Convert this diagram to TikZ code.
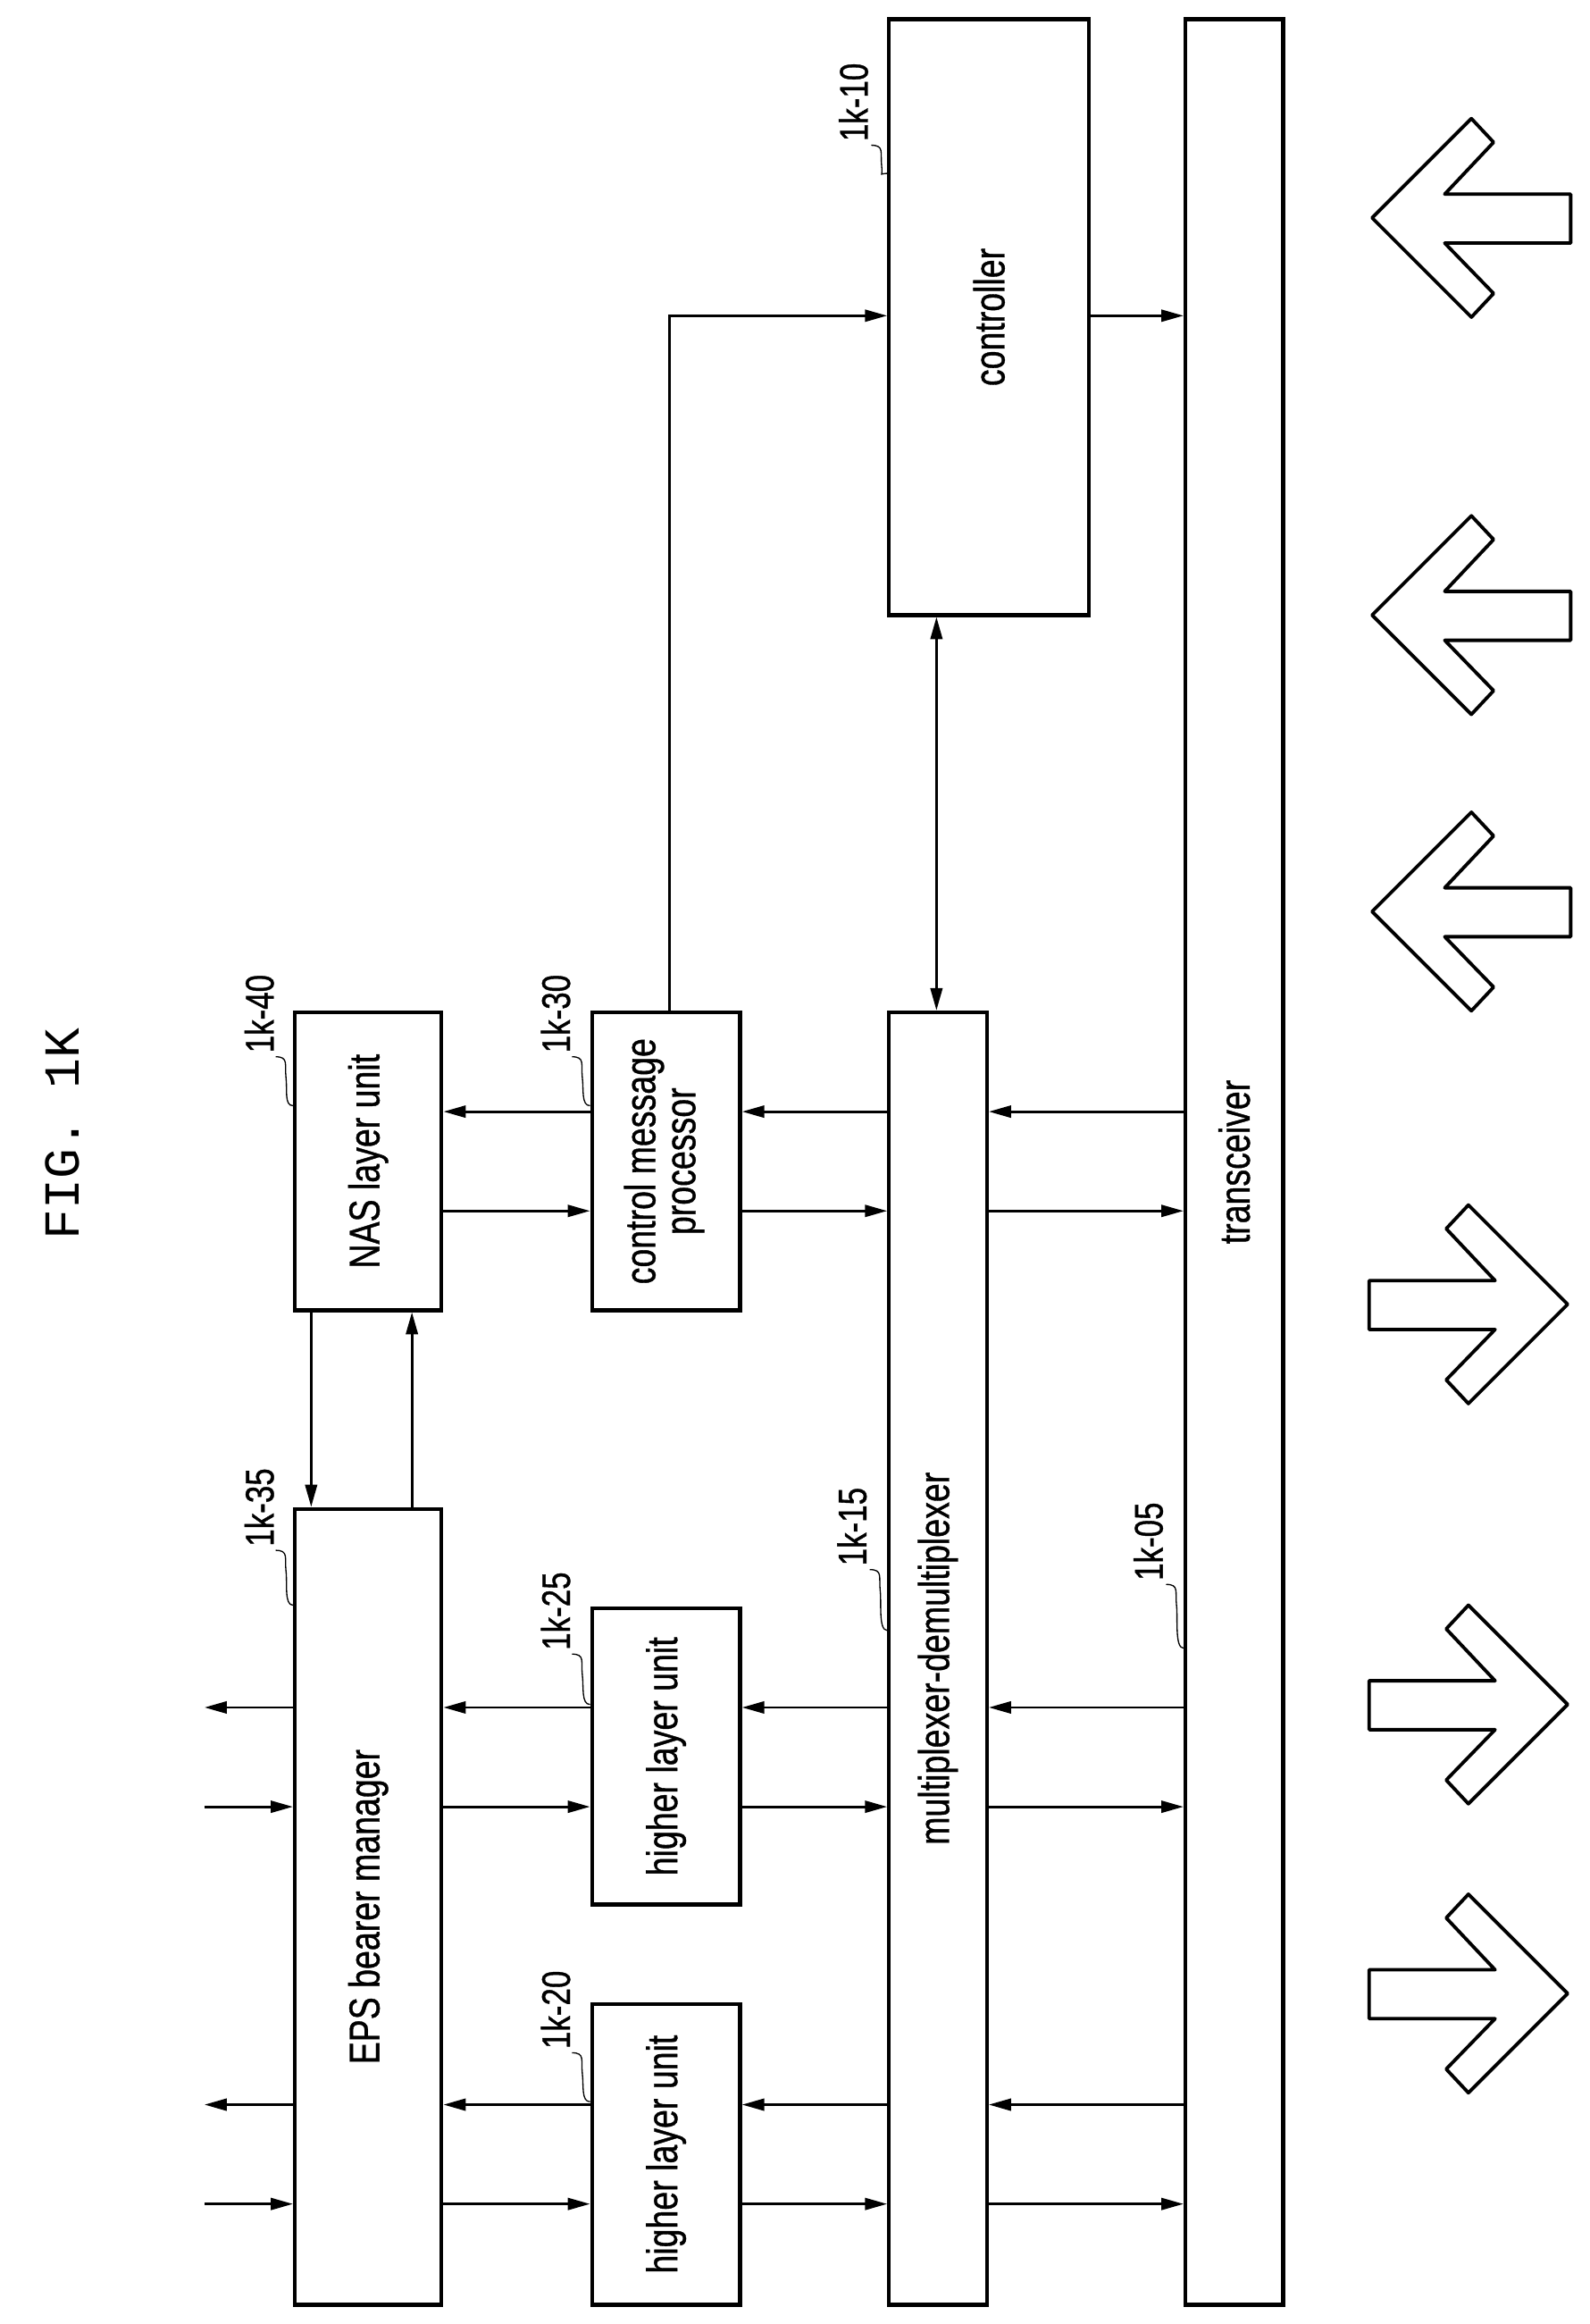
\documentclass[tikz,border=0pt]{standalone}
\usepackage{fontspec}
\setmainfont{Liberation Sans}[FakeStretch=0.78,FakeBold=0.8]
\newfontfamily\titlefont{Liberation Mono}
\usetikzlibrary{arrows.meta}
\newcommand{\myleader}[2]{\draw[ld] (#1) .. controls +(9,0) and +(-1,-9) .. ++(7,14) .. controls +(1,8) and +(-6,0) .. (#2);}
\begin{document}
\begin{tikzpicture}[x=1pt,y=-1pt,
  box/.style={draw,line width=2.6pt,inner sep=0pt,font=\fontsize{29}{31}\selectfont},
  ar/.style={line width=1.7pt,-{Triangle[length=15pt,width=8pt]}},
  dar/.style={line width=1.7pt,{Triangle[length=15pt,width=8pt]}-{Triangle[length=15pt,width=8pt]}},
  lbl/.style={font=\fontsize{27}{29}\selectfont,rotate=90,inner sep=0pt},
  ld/.style={line width=0.8pt},
  big/.style={line width=2.3pt,line join=round}]
\useasboundingbox (0,0) rectangle (1073,1568);
\node[font=\titlefont\fontsize{34}{36}\selectfont,rotate=90] (title) at (42,765) {FIG. 1K};
% boxes
\node[box,minimum width=135,minimum height=402] (ctl) at (667.5,214) {\rotatebox{90}{controller}};
\node[box,minimum width=66,minimum height=1542] (trx) at (833,784) {\rotatebox{90}{transceiver}};
\node[box,minimum width=66,minimum height=872] (mux) at (633,1119) {\rotatebox{90}{multiplexer-demultiplexer}};
\node[box,minimum width=100,minimum height=201] (cmp) at (449.5,783.5) {\rotatebox{90}{\begin{tabular}{@{}c@{}}control message\\[-4pt]processor\end{tabular}}};
\node[box,minimum width=99,minimum height=201] (nas) at (248.5,783.5) {\rotatebox{90}{NAS layer unit}};
\node[box,minimum width=99,minimum height=537] (eps) at (248.5,1286.5) {\rotatebox{90}{EPS bearer manager}};
\node[box,minimum width=100,minimum height=200] (h25) at (449.5,1185) {\rotatebox{90}{higher layer unit}};
\node[box,minimum width=100,minimum height=203] (h20) at (449.5,1453.5) {\rotatebox{90}{higher layer unit}};
% labels
\node[lbl] (l10) at (576,69) {1k-10};   \myleader{588,98}{ctl.west|-0,117}
\node[lbl] (l40) at (175,684) {1k-40};  \myleader{186,713}{nas.west|-0,746}
\node[lbl] (l30) at (375,684) {1k-30};  \myleader{386,713}{cmp.west|-0,746}
\node[lbl] (l35) at (175,1017) {1k-35}; \myleader{186,1046}{eps.west|-0,1083}
\node[lbl] (l25) at (375,1087) {1k-25}; \myleader{386,1116}{h25.west|-0,1150}
\node[lbl] (l20) at (375,1356) {1k-20}; \myleader{386,1385}{h20.west|-0,1418}
\node[lbl] (l15) at (575,1030) {1k-15}; \myleader{587,1059}{mux.west|-0,1100}
\node[lbl] (l05) at (775,1040) {1k-05}; \myleader{787,1069}{trx.west|-0,1112}
% connectors
\foreach \yl/\yr in {750/817} {
  \draw[ar] (trx.west|-0,\yl) -- (mux.east|-0,\yl);
  \draw[ar] (mux.west|-0,\yl) -- (cmp.east|-0,\yl);
  \draw[ar] (cmp.west|-0,\yl) -- (nas.east|-0,\yl);
  \draw[ar] (nas.east|-0,\yr) -- (cmp.west|-0,\yr);
  \draw[ar] (cmp.east|-0,\yr) -- (mux.west|-0,\yr);
  \draw[ar] (mux.east|-0,\yr) -- (trx.west|-0,\yr);
}
\foreach \yl/\yr/\h in {1152/1219/h25,1420/1487/h20} {
  \coordinate (o\h) at (138,\yl);
  \coordinate (i\h) at (138,\yr);
  \draw[ar] (trx.west|-0,\yl) -- (mux.east|-0,\yl);
  \draw[ar] (mux.west|-0,\yl) -- (\h.east|-0,\yl);
  \draw[ar] (\h.west|-0,\yl) -- (eps.east|-0,\yl);
  \draw[ar] (eps.west|-0,\yl) -- (o\h);
  \draw[ar] (i\h) -- (eps.west|-0,\yr);
  \draw[ar] (eps.east|-0,\yr) -- (\h.west|-0,\yr);
  \draw[ar] (\h.east|-0,\yr) -- (mux.west|-0,\yr);
  \draw[ar] (mux.east|-0,\yr) -- (trx.west|-0,\yr);
}
\draw[ar] (nas.south-|210,0) -- (eps.north-|210,0);
\draw[ar] (eps.north-|278,0) -- (nas.south-|278,0);
\draw[ar] (cmp.north-|452,0) |- (ctl.west|-0,213);
\draw[ar] (ctl.east|-0,213) -- (trx.west|-0,213);
\draw[dar] (ctl.south-|632,0) -- (mux.north-|632,0);
% big arrows
\foreach \c in {147,415,615}
  \draw[big] (926,\c) -- ++(67,-67) -- ++(15,16) -- ++(-33,35) -- ++(85,0) -- ++(0,33) -- ++(-85,0) -- ++(33,34) -- ++(-15,16) -- cycle;
\foreach \c in {880,1150,1345}
  \draw[big] (1058,\c) -- ++(-67,-67) -- ++(-15,16) -- ++(33,35) -- ++(-85,0) -- ++(0,33) -- ++(85,0) -- ++(-33,34) -- ++(15,16) -- cycle;
\end{tikzpicture}
\end{document}
